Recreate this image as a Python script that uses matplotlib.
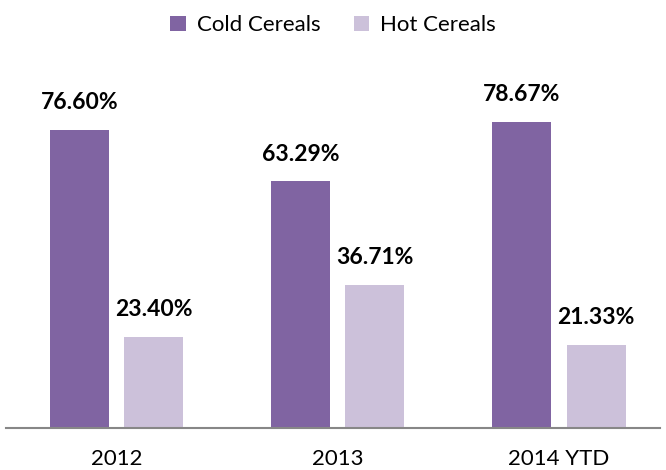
import numpy as np
import matplotlib
matplotlib.use("Agg")
import matplotlib.pyplot as plt

years = ["2012", "2013", "2014 YTD"]
cold = [76.60, 63.29, 78.67]
hot = [23.40, 36.71, 21.33]
series_names = ["Cold Cereals", "Hot Cereals"]
colors = ["#8064A2", "#CCC1DA"]

plt.rcParams["font.family"] = ["Lato", "DejaVu Sans"]

fig = plt.figure(figsize=(6.66, 4.70), dpi=100)
ax = fig.add_axes([6 / 666, 42 / 470, 654 / 666, 0.75])

x = np.arange(len(years))
w = 0.267
off = 0.168
for i, (vals, name) in enumerate(zip([cold, hot], series_names)):
    pos = x - off if i == 0 else x + off
    bars = ax.bar(pos, vals, width=w, color=colors[i], label=name)
    for b, v in zip(bars, vals):
        ax.annotate(f"{v:.2f}%", (b.get_x() + b.get_width() / 2, v),
                    xytext=(0, 12), textcoords="offset points",
                    ha="center", va="bottom", fontsize=16.5, fontweight="bold")

ax.set_xlim(-0.5, 2.457)
ax.set_ylim(0, 90.5)
ax.set_xticks(x)
ax.set_xticklabels(years, fontsize=16)
ax.tick_params(axis="x", length=0, pad=15)
ax.set_yticks([])
for s in ["top", "right", "left"]:
    ax.spines[s].set_visible(False)
ax.spines["bottom"].set_color("#878787")
ax.spines["bottom"].set_linewidth(1.5)

fig.legend(loc="upper center", bbox_to_anchor=(0.5, 1.01), ncol=2, frameon=False,
           fontsize=16, handlelength=0.7, handleheight=0.7, columnspacing=1.5,
           handletextpad=0.5)

fig.savefig("out.png", dpi=100)
